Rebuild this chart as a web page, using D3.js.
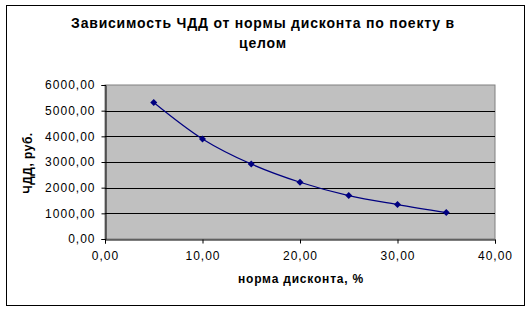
<!DOCTYPE html>
<html>
<head>
<meta charset="utf-8">
<script src="https://cdn.jsdelivr.net/npm/d3@7"></script>
<style>
  body { margin: 0; background: #fff; }
  svg { display: block; font-family: "Liberation Sans", Arial, sans-serif; }
</style>
</head>
<body>
<div id="chart"></div>
<script>
// discount rate, %
const rates = [5, 10, 15, 20, 25, 30, 35];
// NPV (ЧДД), rub.
const npv = [5320, 3900, 2920, 2210, 1690, 1340, 1030];
const xTicks = [0, 10, 20, 30, 40];
const yTicks = [0, 1000, 2000, 3000, 4000, 5000, 6000];
const titleLines = ["Зависимость ЧДД от нормы дисконта по поекту в", "целом"];

const width = 532, height = 309;
const margin = { top: 85, right: 37, bottom: 70, left: 105 };

const svg = d3.select("#chart")
  .append("svg")
  .attr("width", width)
  .attr("height", height);

// outer frame
svg.append("rect")
  .attr("x", 6.5).attr("y", 5.5)
  .attr("width", 518).attr("height", 300)
  .attr("fill", "#fff")
  .attr("stroke", "#000")
  .attr("stroke-width", 1);

const x = d3.scaleLinear().domain([0, 40]).range([margin.left, width - margin.right]);
const y = d3.scaleLinear().domain([0, 6000]).range([height - margin.bottom, margin.top]);

// plot area
svg.append("rect")
  .attr("x", x(0)).attr("y", y(6000))
  .attr("width", x(40) - x(0)).attr("height", y(0) - y(6000))
  .attr("fill", "#c0c0c0")
  .attr("stroke", "#808080");

// gridlines
svg.append("g")
  .selectAll("line")
  .data(yTicks.filter(d => d > 0 && d < 6000))
  .enter()
  .append("line")
  .attr("x1", x(0)).attr("x2", x(40))
  .attr("y1", d => Math.round(y(d)) + 0.5)
  .attr("y2", d => Math.round(y(d)) + 0.5)
  .attr("stroke", "#000");

const fmt = d => d3.format(".2f")(d).replace(".", ",");

// axes
const xAxis = svg.append("g")
  .attr("transform", `translate(0, ${Math.round(y(0)) + 0.5})`)
  .call(d3.axisBottom(x).tickValues(xTicks).tickFormat(fmt).tickSize(4).tickPadding(8));
const yAxis = svg.append("g")
  .attr("transform", `translate(${Math.round(x(0)) + 0.5}, 0)`)
  .call(d3.axisLeft(y).tickValues(yTicks).tickFormat(fmt).tickSize(4).tickPadding(6));

[xAxis, yAxis].forEach(g => {
  g.select(".domain").attr("stroke", "#000");
  g.selectAll(".tick line").attr("stroke", "#000");
  g.selectAll(".tick text")
    .attr("fill", "#000")
    .style("font-size", "12px")
    .style("letter-spacing", "1px")
    .style("font-family", "'Liberation Sans', Arial, sans-serif");
});

// line (smoothed, like Excel)
const line = d3.line()
  .x((d, i) => x(rates[i]))
  .y(d => y(d))
  .curve(d3.curveCatmullRom.alpha(0.5));

svg.append("path")
  .datum(npv)
  .attr("fill", "none")
  .attr("stroke", "#000080")
  .attr("stroke-width", 1.2)
  .attr("d", line);

// diamond markers
svg.selectAll(".marker")
  .data(npv)
  .enter()
  .append("path")
  .attr("class", "marker")
  .attr("transform", (d, i) => `translate(${x(rates[i])}, ${y(d)})`)
  .attr("d", "M0,-3.5L3.5,0L0,3.5L-3.5,0Z")
  .attr("fill", "#000080");

// title
svg.append("text")
  .attr("x", 263)
  .attr("y", 28)
  .style("text-anchor", "middle")
  .style("font-weight", "bold")
  .style("font-size", "14px")
  .style("letter-spacing", "0.8px")
  .selectAll("tspan")
  .data(titleLines)
  .enter()
  .append("tspan")
  .attr("x", 263)
  .attr("dy", (d, i) => i === 0 ? 0 : 20)
  .text(d => d);

// axis titles
svg.append("text")
  .attr("x", 301)
  .attr("y", 283)
  .text("норма дисконта, %")
  .style("font-weight", "bold")
  .style("font-size", "12px")
  .style("letter-spacing", "0.8px")
  .style("text-anchor", "middle");

svg.append("text")
  .attr("transform", "translate(32, 163) rotate(-90)")
  .text("ЧДД, руб.")
  .style("font-weight", "bold")
  .style("font-size", "12px")
  .style("letter-spacing", "0.5px")
  .style("text-anchor", "middle");
</script>
</body>
</html>
